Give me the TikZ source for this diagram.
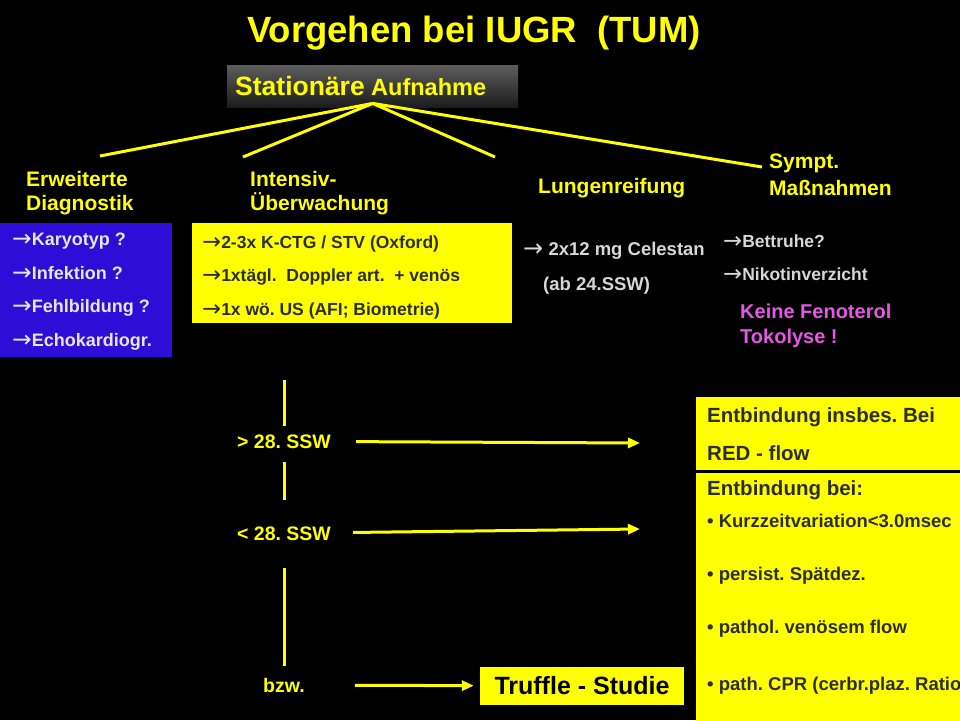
\documentclass[tikz,border=0pt]{standalone}
\usepackage{fontspec}
\setmainfont{Liberation Sans}
\newfontfamily\arrowfont[Scale=1.3]{DejaVu Sans}
\usetikzlibrary{arrows.meta}
\frenchspacing

\definecolor{iugryellow}{RGB}{255,255,0}
\definecolor{diagblue}{RGB}{46,14,214}
\definecolor{darktext}{RGB}{45,45,45}
\definecolor{lighttext}{RGB}{230,230,240}
\definecolor{greytext}{RGB}{215,215,215}
\definecolor{pinktext}{RGB}{228,88,228}
\definecolor{boxtop}{RGB}{92,92,92}
\definecolor{boxbottom}{RGB}{28,28,28}

\newcommand{\fsz}[1]{\fontsize{#1}{#1}\selectfont\bfseries}
\newcommand{\ra}{\raisebox{-1.5pt}{\arrowfont\mdseries →}}

\begin{document}
\begin{tikzpicture}[x=1pt, y=-1pt,
    txt/.style={anchor=base west, inner sep=0pt},
    yline/.style={draw=iugryellow, line width=3pt},
    >={Triangle[length=12pt, width=10pt]}]
\useasboundingbox (0,0) rectangle (960,720);
\fill[black] (0,0) rectangle (960,720);
\clip (0,0) rectangle (960,720);

% title and top box
\node[anchor=base, inner sep=0pt, text=iugryellow, font=\fsz{36.5}] (title) at (474,42) {Vorgehen bei IUGR\ \ (TUM)};
\node[anchor=north west, inner sep=0pt, minimum width=291pt, minimum height=42pt, top color=boxtop, bottom color=boxbottom] (station) at (227,65) {};
\node[txt, text=iugryellow, font=\fsz{26.5}] (stat1) at (235,95) {Stationäre};
\node[txt, text=iugryellow, font=\fsz{23.5}] (stat2) at (371,95) {Aufnahme};

\coordinate (apex) at ([yshift=4pt]station.south);
\coordinate (e1) at (100,156);
\coordinate (e2) at (243,157);
\coordinate (e3) at (495,157);
\coordinate (e4) at (762,167);
\draw[yline] (apex) -- (e1);
\draw[yline] (apex) -- (e2);
\draw[yline] (apex) -- (e3);
\draw[yline] (apex) -- (e4);

% headings
\node[txt, text=iugryellow, font=\fsz{21}] (erw1) at (26,186) {Erweiterte};
\node[txt, text=iugryellow, font=\fsz{21}] (erw2) at (26,210) {Diagnostik};
\node[txt, text=iugryellow, font=\fsz{21}] (int1) at (250,186) {Intensiv-};
\node[txt, text=iugryellow, font=\fsz{21}] (int2) at (250,210) {Überwachung};
\node[txt, text=iugryellow, font=\fsz{21}] (lunge) at (538,193) {Lungenreifung};
\node[txt, text=iugryellow, font=\fsz{21}] (sym1) at (769,168) {Sympt.};
\node[txt, text=iugryellow, font=\fsz{21}] (sym2) at (769,195) {Maßnahmen};

% diagnostics
\node[anchor=north west, inner sep=0pt, fill=diagblue, minimum width=172pt, minimum height=134pt] (diagbox) at (0,223) {};
\node[txt, text=lighttext, font=\fsz{18}] (d1) at (12,245) {\ra Karyotyp ?};
\node[txt, text=lighttext, font=\fsz{18}] (d2) at (12,279) {\ra Infektion ?};
\node[txt, text=lighttext, font=\fsz{18}] (d3) at (12,312) {\ra Fehlbildung ?};
\node[txt, text=lighttext, font=\fsz{18}] (d4) at (12,346) {\ra Echokardiogr.};

% monitoring
\node[anchor=north west, inner sep=0pt, fill=iugryellow, minimum width=320pt, minimum height=100pt] (ueberbox) at (192,223) {};
\node[txt, text=darktext, font=\fsz{17.5}] (u1) at (202,248) {\ra 2-3x K-CTG / STV (Oxford)};
\node[txt, text=darktext, font=\fsz{17.5}] (u2) at (202,281) {\ra 1xtägl.\ \ Doppler art.\ \ + venös};
\node[txt, text=darktext, font=\fsz{17.5}] (u3) at (202,315) {\ra 1x wö. US (AFI; Biometrie)};

% lung maturation, symptomatic measures
\node[txt, text=greytext, font=\fsz{18.5}] (cel1) at (523,255) {\ra\ 2x12 mg Celestan};
\node[txt, text=greytext, font=\fsz{18.5}] (cel2) at (543,290) {(ab 24.SSW)};
\node[txt, text=greytext, font=\fsz{17.5}] (bett) at (723,247) {\ra Bettruhe?};
\node[txt, text=greytext, font=\fsz{17.5}] (niko) at (723,280) {\ra Nikotinverzicht};
\node[txt, text=pinktext, font=\fsz{20}] (feno1) at (740,318) {Keine Fenoterol};
\node[txt, text=pinktext, font=\fsz{20}] (feno2) at (740,343) {Tokolyse !};

% gestational age
\node[anchor=base, inner sep=0pt, text=iugryellow, font=\fsz{19.5}] (gt28) at (284,448) {> 28. SSW};
\node[anchor=base, inner sep=0pt, text=iugryellow, font=\fsz{19.5}] (lt28) at (284,540) {< 28. SSW};
\node[anchor=base, inner sep=0pt, text=iugryellow, font=\fsz{19.5}] (bzw) at (284,692) {bzw.};

\coordinate (vtop) at (284,380);
\draw[yline, shorten >=8pt] (vtop) -- (gt28);
\draw[yline, shorten <=14pt, shorten >=26pt] (gt28) -- (lt28);
\draw[yline, shorten <=28pt, shorten >=12pt] (lt28) -- (bzw);

% delivery
\node[anchor=north west, inner sep=0pt, fill=iugryellow, minimum width=265pt, minimum height=73pt] (redbox) at (696,397) {};
\node[anchor=north west, inner sep=0pt, fill=iugryellow, minimum width=265pt, minimum height=248pt] (entbbox) at (696,473) {};
\node[txt, text=darktext, font=\fsz{20.5}] (r1) at (707,422) {Entbindung insbes. Bei};
\node[txt, text=darktext, font=\fsz{20.5}] (r2) at (707,460) {RED - flow};
\node[txt, text=darktext, font=\fsz{20.5}] (b0) at (707,495) {Entbindung bei:};
\node[txt, text=darktext, font=\fsz{18.5}] (b1) at (707,527) {• Kurzzeitvariation<3.0msec};
\node[txt, text=darktext, font=\fsz{18.5}] (b2) at (707,580) {• persist. Spätdez.};
\node[txt, text=darktext, font=\fsz{18.5}] (b3) at (707,633) {• pathol. venösem flow};
\node[txt, text=darktext, font=\fsz{18.5}] (b4) at (707,690) {• path. CPR (cerbr.plaz. Ratio};

\node[fill=iugryellow, inner sep=0pt, minimum width=204pt, minimum height=38pt, font=\fsz{25}] (truffle) at (582,686) {Truffle - Studie};

\coordinate (tip1) at (640,443);
\coordinate (tip2) at (640,529);
\draw[yline, ->, shorten <=25pt] (gt28) -- (tip1);
\draw[yline, ->, shorten <=22pt] (lt28) -- (tip2);
\draw[yline, ->, shorten <=50pt, shorten >=6pt] (bzw) -- (truffle);
\end{tikzpicture}
\end{document}
